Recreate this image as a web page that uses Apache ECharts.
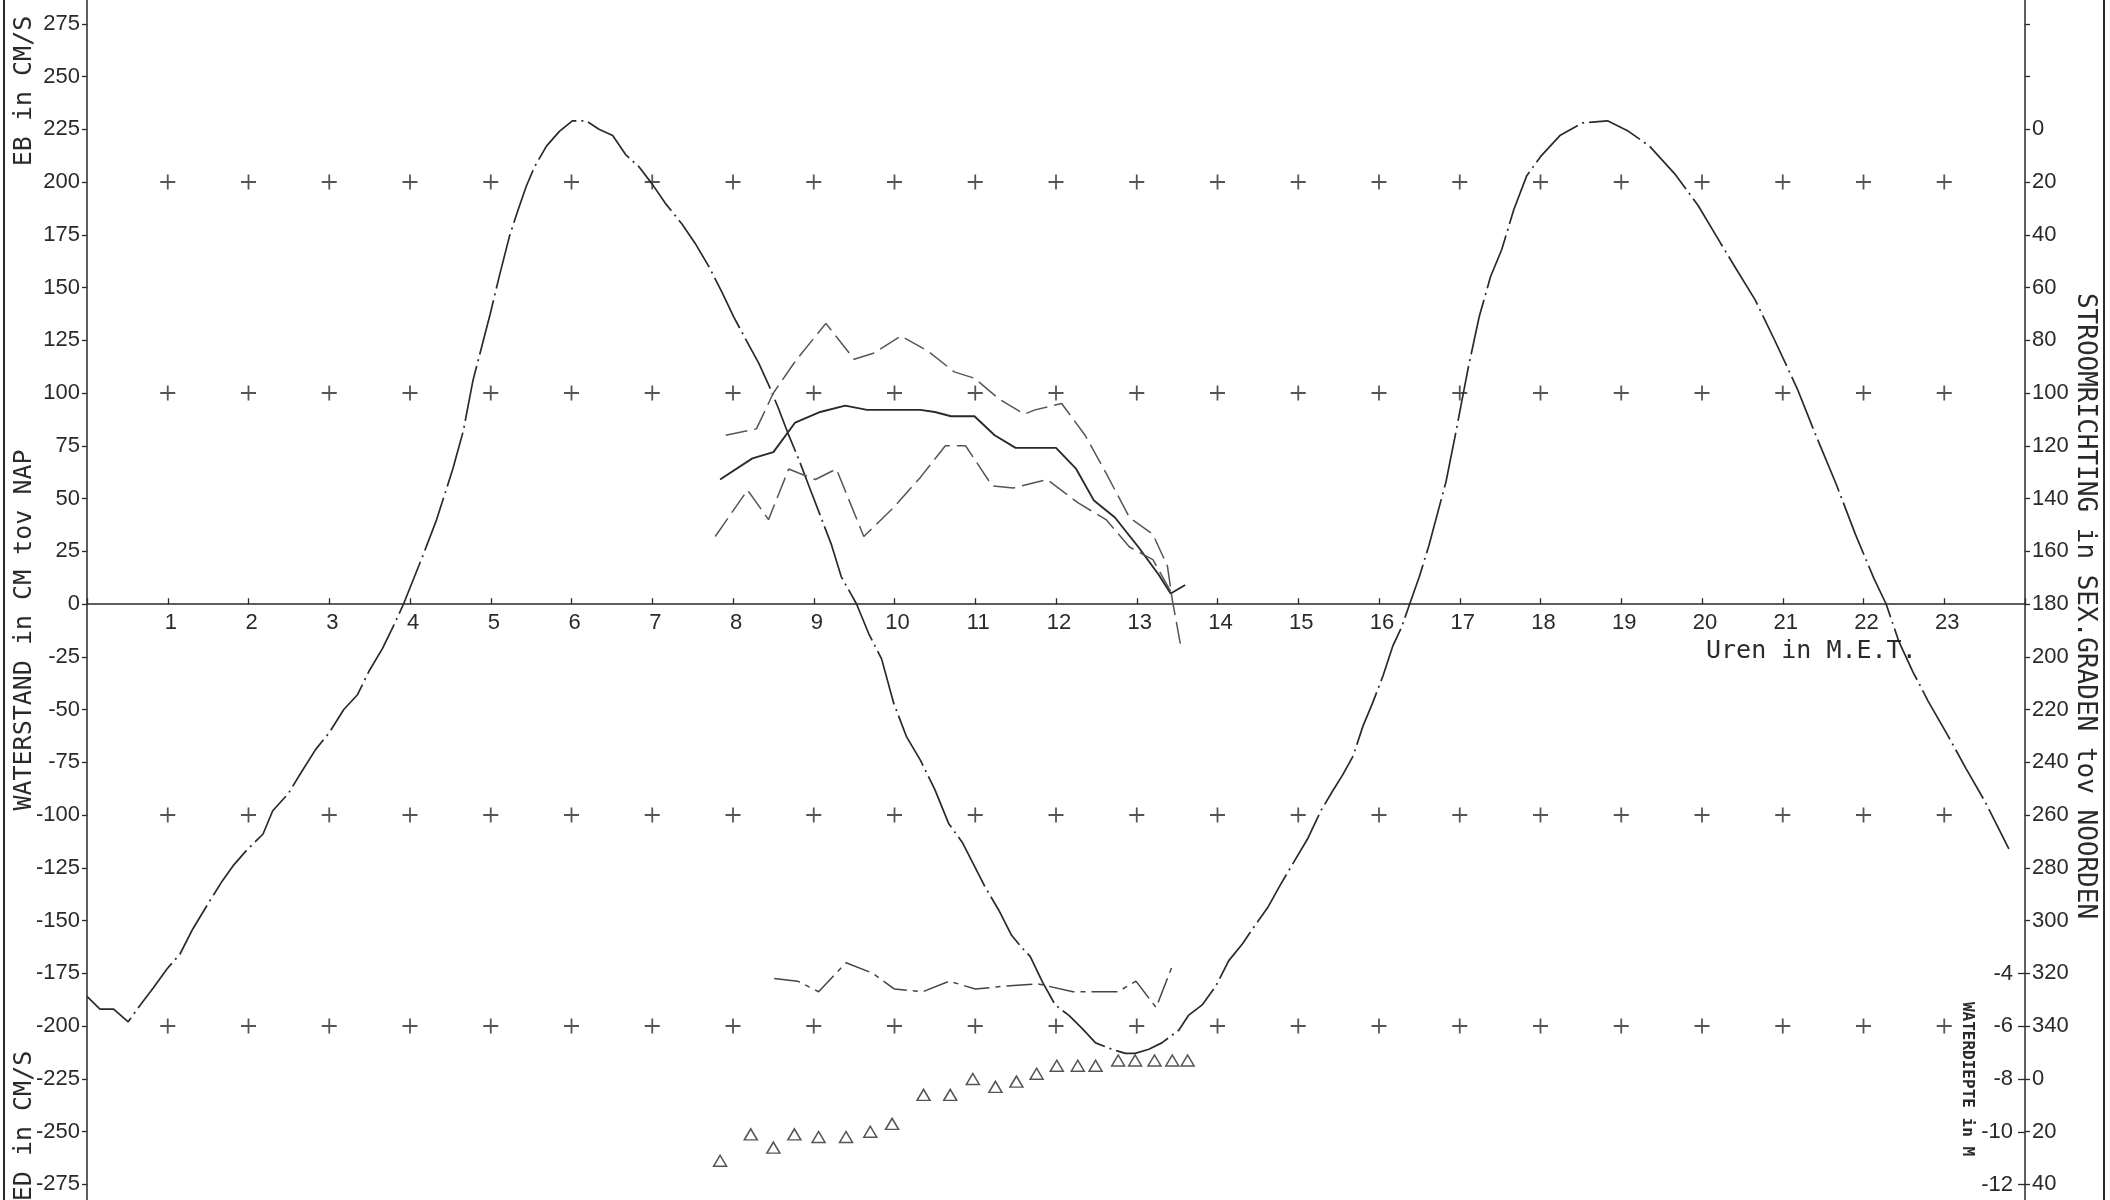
<!DOCTYPE html>
<html>
<head>
<meta charset="utf-8">
<title>Waterstand en stroom</title>
<script src="https://cdn.jsdelivr.net/npm/echarts@6/dist/echarts.min.js"></script>
<style>
  html, body { margin: 0; padding: 0; background: #fff; }
  #container { width: 2110px; height: 1200px; }
</style>
</head>
<body>
<div id="container"></div>
<script>
// --- data (uren in M.E.T.) ---
// waterstand in cm tov NAP
var waterstand = [
  [0, -186], [0.16, -192], [0.33, -192], [0.51, -198], [0.66, -190], [0.82, -182], [0.99, -173],
  [1.15, -166], [1.31, -154], [1.5, -142], [1.68, -131], [1.81, -124], [1.97, -117], [2.18, -109],
  [2.3, -98], [2.49, -90], [2.65, -80], [2.83, -69], [3.0, -61], [3.18, -50], [3.35, -43],
  [3.49, -32], [3.66, -21], [3.8, -10], [3.92, 0], [4.16, 23], [4.33, 40], [4.53, 64], [4.66, 82],
  [4.78, 106], [4.99, 137], [5.11, 156], [5.23, 174], [5.34, 187], [5.44, 198], [5.54, 207],
  [5.69, 217], [5.85, 224], [6.01, 229], [6.18, 229], [6.34, 225], [6.51, 222], [6.67, 213],
  [6.84, 207], [7.0, 199], [7.16, 190], [7.37, 180], [7.53, 171], [7.7, 160], [7.86, 148],
  [8.01, 136], [8.15, 126], [8.32, 114], [8.44, 104], [8.56, 93], [8.69, 80], [8.81, 69],
  [8.95, 55], [9.1, 40], [9.22, 28], [9.34, 13], [9.53, 0], [9.68, -14], [9.84, -26], [9.99, -47],
  [10.15, -63], [10.32, -74], [10.5, -88], [10.67, -104], [10.84, -113], [10.96, -122],
  [11.12, -134], [11.29, -145], [11.45, -157], [11.58, -163], [11.68, -167], [11.83, -179],
  [11.99, -190], [12.16, -195], [12.32, -201], [12.49, -208], [12.69, -211], [12.86, -213],
  [12.98, -213], [13.15, -211], [13.31, -208], [13.52, -202], [13.64, -195], [13.81, -190],
  [13.98, -181], [14.14, -169], [14.31, -161], [14.47, -152], [14.62, -144], [14.78, -133],
  [14.95, -122], [15.12, -111], [15.28, -98], [15.42, -89], [15.55, -81], [15.68, -72],
  [15.8, -58], [15.92, -47], [16.05, -34], [16.17, -20], [16.28, -11], [16.38, 0], [16.5, 13],
  [16.62, 28], [16.83, 58], [16.95, 81], [17.1, 111], [17.24, 136], [17.38, 155], [17.52, 168],
  [17.67, 187], [17.83, 203], [18.0, 212], [18.24, 222], [18.52, 228], [18.83, 229], [19.09, 224],
  [19.35, 217], [19.66, 204], [19.95, 189], [20.23, 171], [20.42, 159], [20.66, 144], [20.9, 125],
  [21.18, 102], [21.42, 79], [21.66, 57], [21.9, 33], [22.13, 12], [22.28, 0], [22.44, -18],
  [22.61, -32], [22.8, -46], [23.04, -62], [23.27, -78], [23.51, -94], [23.8, -116]
];

// stroomsnelheid in cm/s (gemiddeld, maximum, minimum)
var snelheidGem = [
  [7.84, 59], [8.24, 69], [8.5, 72], [8.77, 86], [9.08, 91], [9.39, 94], [9.66, 92], [9.97, 92],
  [10.32, 92], [10.5, 91], [10.7, 89], [10.99, 89], [11.24, 80], [11.5, 74], [12.0, 74],
  [12.25, 64], [12.47, 49], [12.73, 41], [13.02, 27], [13.27, 14], [13.42, 5], [13.6, 9]
];
var snelheidMax = [
  [7.91, 80], [8.29, 83], [8.5, 100], [8.77, 115], [9.15, 133], [9.5, 116], [9.75, 119],
  [10.08, 127], [10.41, 120], [10.74, 110], [10.99, 107], [11.3, 97], [11.61, 90], [11.74, 92],
  [12.07, 95], [12.36, 80], [12.62, 62], [12.91, 41], [13.2, 33], [13.38, 18], [13.44, 2],
  [13.55, -21]
];
var snelheidMin = [
  [7.78, 32], [8.18, 54], [8.44, 40], [8.69, 64], [8.82, 62], [9.02, 59], [9.28, 64], [9.62, 32],
  [9.97, 45], [10.32, 60], [10.63, 75], [10.88, 75], [11.21, 56], [11.47, 55], [11.89, 59],
  [12.27, 48], [12.62, 40], [12.91, 27], [13.2, 21], [13.42, 6]
];

// stroomrichting in graden tov noorden
var richting = [
  [8.51, 322], [8.8, 323], [9.06, 327], [9.4, 316], [9.73, 320], [10.0, 326], [10.35, 327],
  [10.68, 323], [11.0, 326], [11.33, 325], [11.77, 324], [12.21, 327], [12.5, 327], [12.77, 327],
  [12.99, 323], [13.24, 333], [13.43, 318]
];

// waterdiepte in m
var diepteUur = [7.84, 8.22, 8.5, 8.76, 9.06, 9.4, 9.7, 9.97, 10.36, 10.69, 10.97, 11.25, 11.51,
  11.76, 12.01, 12.27, 12.49, 12.77, 12.98, 13.22, 13.44, 13.63];
var diepteM = [-11.1, -10.1, -10.6, -10.1, -10.2, -10.2, -10.0, -9.7, -8.6, -8.6, -8.0, -8.3,
  -8.1, -7.8, -7.5, -7.5, -7.5, -7.3, -7.3, -7.3, -7.3, -7.3];

// raster van kruisjes
var kruisUren = [1, 2, 3, 4, 5, 6, 7, 8, 9, 10, 11, 12, 13, 14, 15, 16, 17, 18, 19, 20, 21, 22, 23];
var kruisNiveaus = [200, 100, -100, -200];

var kruisData = [];
kruisNiveaus.forEach(function (n) {
  kruisUren.forEach(function (u) { kruisData.push([u, n]); });
});
var diepteData = diepteUur.map(function (u, i) { return [u, diepteM[i]]; });

var ink = "#2a2a2a";
var numFont = "Liberation Sans";
var txtFont = "DejaVu Sans Mono";

var dom = document.getElementById("container");
var myChart = echarts.init(dom, null, { renderer: "canvas" });
var option = null;

option = {
  animation: false,
  backgroundColor: "#fff",
  grid: [
    // main plot: 0 cm at y=604, 2.11 px per cm
    { left: 87, width: 1938, top: -29, height: 1266, outerBoundsMode: "none", containLabel: false },
    // depth panel, lower part of the right axis
    { left: 87, width: 1938, top: 973.5, height: 263.75, outerBoundsMode: "none", containLabel: false },
    // upper half, only to carry the hour axis along the zero line
    { left: 87, width: 1938, top: -29, height: 633.2, outerBoundsMode: "none", containLabel: false }
  ],
  xAxis: [
    { gridIndex: 0, type: "value", min: 0, max: 24, show: false },
    { gridIndex: 1, type: "value", min: 0, max: 24, show: false },
    {
      gridIndex: 2, type: "value", position: "bottom", min: 0, max: 24, interval: 1,
      axisLine: { show: true, onZero: false, lineStyle: { color: ink, width: 1.5 } },
      axisTick: { show: true, inside: true, length: 6, lineStyle: { color: ink, width: 1.3 } },
      axisLabel: {
        show: true, color: ink, fontFamily: numFont, fontSize: 22, margin: 8,
        showMinLabel: true, showMaxLabel: true, padding: [0, 0, 0, 6],
        formatter: function (v) { return v === 0 || v === 24 ? "" : String(v); }
      },
      splitLine: { show: false }
    }
  ],
  yAxis: [
    {
      gridIndex: 0, type: "value", position: "left", min: -300, max: 300, interval: 25,
      axisLine: { show: true, onZero: false, lineStyle: { color: ink, width: 1.5 } },
      axisTick: { show: true, length: 5, lineStyle: { color: ink, width: 1.3 } },
      axisLabel: {
        color: ink, fontFamily: numFont, fontSize: 22, margin: 7,
        formatter: function (v) { return Math.abs(v) >= 300 ? "" : String(v); }
      },
      splitLine: { show: false }
    },
    {
      gridIndex: 0, type: "value", position: "right", inverse: true, min: -60, max: 420, interval: 20,
      axisLine: { show: true, onZero: false, lineStyle: { color: ink, width: 1.5 } },
      axisTick: { show: true, length: 5, lineStyle: { color: ink, width: 1.3 } },
      axisLabel: {
        color: ink, fontFamily: numFont, fontSize: 22, margin: 7,
        formatter: function (v) { return v < 0 || v > 400 ? "" : String(v % 360); }
      },
      splitLine: { show: false }
    },
    {
      gridIndex: 1, type: "value", position: "right", min: -14, max: -4, interval: 2,
      axisLine: { show: false, onZero: false },
      axisTick: { show: true, inside: true, length: 7, lineStyle: { color: ink, width: 1.3 } },
      axisLabel: {
        inside: true, color: ink, fontFamily: numFont, fontSize: 22, margin: 12,
        showMinLabel: true, showMaxLabel: true,
        formatter: function (v) { return v <= -14 ? "" : String(v); }
      },
      splitLine: { show: false }
    },
    { gridIndex: 2, type: "value", min: 0, max: 300, show: false }
  ],
  graphic: [
    { type: "line", shape: { x1: 4, y1: 0, x2: 4, y2: 1200 }, style: { stroke: ink, lineWidth: 2 } },
    { type: "line", shape: { x1: 2104, y1: 0, x2: 2104, y2: 1200 }, style: { stroke: ink, lineWidth: 2 } },
    {
      type: "text", x: 24, y: 91, rotation: Math.PI / 2,
      style: { text: "EB in CM/S", font: "25px " + txtFont, fill: ink, textAlign: "center", textVerticalAlign: "middle" }
    },
    {
      type: "text", x: 24, y: 630, rotation: Math.PI / 2,
      style: { text: "WATERSTAND in CM tov NAP", font: "25px " + txtFont, fill: ink, textAlign: "center", textVerticalAlign: "middle" }
    },
    {
      type: "text", x: 24, y: 1126, rotation: Math.PI / 2,
      style: { text: "ED in CM/S", font: "25px " + txtFont, fill: ink, textAlign: "center", textVerticalAlign: "middle" }
    },
    {
      type: "text", x: 2085, y: 606, rotation: -Math.PI / 2,
      style: { text: "STROOMRICHTING in SEX.GRADEN tov NOORDEN", font: "26px " + txtFont, fill: ink, textAlign: "center", textVerticalAlign: "middle" }
    },
    {
      type: "text", x: 1967, y: 1079, rotation: -Math.PI / 2,
      style: { text: "WATERDIEPTE in M", font: "bold 16px " + txtFont, fill: ink, textAlign: "center", textVerticalAlign: "middle" }
    },
    {
      type: "text", x: 1706, y: 651,
      style: { text: "Uren in M.E.T.", font: "25px " + txtFont, fill: ink, textAlign: "left", textVerticalAlign: "middle" }
    }
  ],
  series: [
    {
      name: "raster", type: "scatter", xAxisIndex: 0, yAxisIndex: 0, silent: true,
      symbol: "path://M4.4,0H5.6V10H4.4Z M0,4.4H10V5.6H0Z", symbolSize: 15,
      itemStyle: { color: ink }, data: kruisData
    },
    {
      name: "waterstand", type: "line", xAxisIndex: 0, yAxisIndex: 0, showSymbol: false, silent: true,
      lineStyle: { color: ink, width: 1.7, type: [56, 5, 2, 5] }, data: waterstand
    },
    {
      name: "snelheid gem", type: "line", xAxisIndex: 0, yAxisIndex: 0, showSymbol: false, silent: true,
      lineStyle: { color: ink, width: 1.9 }, data: snelheidGem
    },
    {
      name: "snelheid max", type: "line", xAxisIndex: 0, yAxisIndex: 0, showSymbol: false, silent: true,
      lineStyle: { color: "#555", width: 1.5, type: [22, 7] }, data: snelheidMax
    },
    {
      name: "snelheid min", type: "line", xAxisIndex: 0, yAxisIndex: 0, showSymbol: false, silent: true,
      lineStyle: { color: "#555", width: 1.5, type: [22, 7] }, data: snelheidMin
    },
    {
      name: "richting", type: "line", xAxisIndex: 0, yAxisIndex: 1, showSymbol: false, silent: true,
      lineStyle: { color: "#444", width: 1.5, type: [26, 6, 5, 6] }, data: richting
    },
    {
      name: "waterdiepte", type: "scatter", xAxisIndex: 1, yAxisIndex: 2, silent: true,
      symbol: "triangle", symbolSize: [13, 11],
      itemStyle: { color: "#fff", borderColor: ink, borderWidth: 1.5 }, data: diepteData
    }
  ]
};

if (option && typeof option === "object") {
  myChart.setOption(option, true);
}
</script>
</body>
</html>
